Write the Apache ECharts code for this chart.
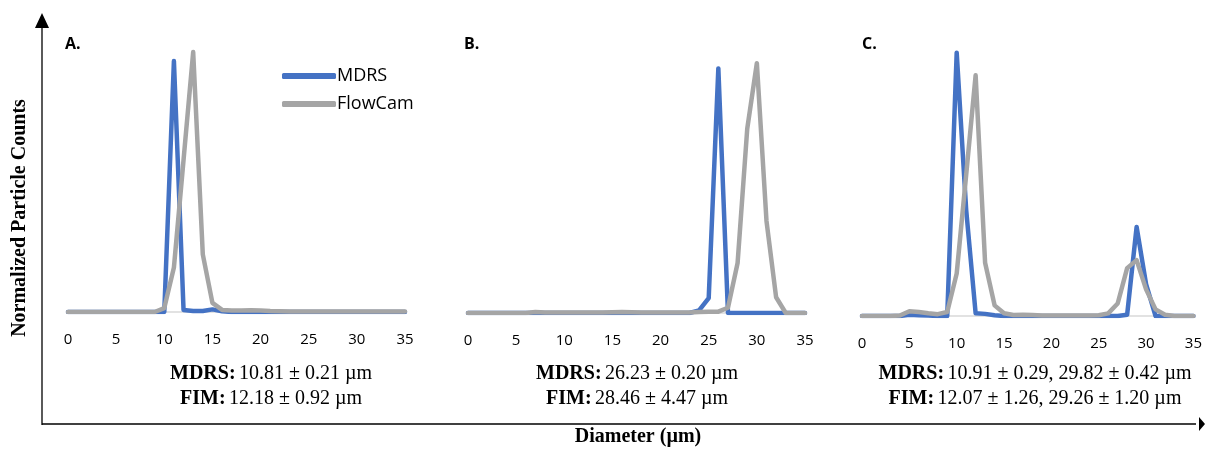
<!DOCTYPE html>
<html><head><meta charset="utf-8">
<script src="https://cdn.jsdelivr.net/npm/echarts@6/dist/echarts.min.js"></script>
<style>html,body{margin:0;padding:0;background:#fff}#c{width:1205px;height:449px}</style>
</head><body><div id="c"></div>
<script>
const diameters = [0,1,2,3,4,5,6,7,8,9,10,11,12,13,14,15,16,17,18,19,20,21,22,23,24,25,26,27,28,29,30,31,32,33,34,35];
const xTicks = [0,5,10,15,20,25,30,35];
const seriesNames = ['MDRS','FlowCam'];
// Panel A
const mdrsA =    [0,0,0,0,0,0,0,0,0,0,0,0.958,0.008,0.004,0.004,0.01,0.003,0,0,0,0,0,0,0,0,0,0,0,0,0,0,0,0,0,0,0];
const flowcamA = [0,0,0,0,0,0,0,0,0,0,0.015,0.17,0.58,0.992,0.22,0.035,0.008,0.006,0.006,0.007,0.006,0.004,0.003,0.002,0.002,0.002,0.002,0.002,0.002,0.002,0.002,0.002,0.002,0.002,0.002,0.002];
// Panel B
const mdrsB =    [0,0,0,0,0,0,0,0,0,0,0,0,0,0,0,0,0,0,0,0,0,0,0,0,0.01,0.057,0.93,0,0,0,0,0,0,0,0,0];
const flowcamB = [0,0,0,0,0,0,0,0.004,0.002,0.002,0.002,0.002,0.002,0.002,0.002,0.003,0.004,0.003,0.002,0.002,0.002,0.002,0.002,0.002,0.004,0.005,0.005,0.02,0.19,0.70,0.95,0.35,0.06,0,0,0];
// Panel C
const mdrsC =    [0,0,0,0,0,0.005,0.003,0.002,0,0,0.99,0.40,0.01,0.008,0.003,0,0,0,0,0,0,0,0,0,0,0,0,0,0.005,0.335,0.12,0,0,0,0,0];
const flowcamC = [0,0,0,0,0.002,0.018,0.015,0.01,0.007,0.015,0.16,0.53,0.905,0.2,0.04,0.01,0.004,0.005,0.004,0.002,0.002,0.002,0.002,0.002,0.002,0.003,0.01,0.047,0.18,0.21,0.1,0.025,0.005,0,0,0];

const panels = [
  {label:'A.', mdrs:mdrsA, flow:flowcamA, left:68, width:337, bottom:312,
   l1:'10.81 ± 0.21 µm', l2:'12.18 ± 0.92 µm', cx:271, lx:65},
  {label:'B.', mdrs:mdrsB, flow:flowcamB, left:468, width:337, bottom:313,
   l1:'26.23 ± 0.20 µm', l2:'28.46 ± 4.47 µm', cx:637, lx:464},
  {label:'C.', mdrs:mdrsC, flow:flowcamC, left:862, width:335, bottom:316,
   l1:'10.91 ± 0.29, 29.82 ± 0.42 µm', l2:'12.07 ± 1.26, 29.26 ± 1.20 µm', cx:1035, lx:862}
];
const H = 449, TOP = 50;
const colors = ['#4472C4','#A5A5A5'];
const tickFont = 'Open Sans';
const rich = {b:{fontFamily:'Liberation Serif', fontWeight:'bold', fontSize:20, fill:'#000'},
              r:{fontFamily:'Liberation Serif', fontSize:20, fill:'#000'}};

const grid=[], xAxis=[], yAxis=[], series=[], graphic=[];
panels.forEach((p,i)=>{
  grid.push({left:p.left, width:p.width, top:TOP, bottom:H-p.bottom});
  xAxis.push({type:'value', gridIndex:i, min:0, max:35, interval:5,
    axisLine:{show:true, lineStyle:{color:'#D9D9D9', width:1.5}}, axisTick:{show:false},
    splitLine:{show:false},
    axisLabel:{color:'#000', fontSize:15, fontFamily:tickFont, margin:20,
      formatter:v=> xTicks.includes(v)? String(v):''}});
  yAxis.push({type:'value', gridIndex:i, min:0, max:1, show:false});
  [p.mdrs,p.flow].forEach((arr,k)=>{
    series.push({type:'line', name:seriesNames[k], xAxisIndex:i, yAxisIndex:i,
      data: diameters.map((d,j)=>[d,arr[j]]), showSymbol:false, symbol:'none',
      lineStyle:{color:colors[k], width:4.5, cap:'round', join:'round'},
      itemStyle:{color:colors[k]}, z: 2+k, silent:true});
  });
  graphic.push({type:'text', left:p.lx, top:36, style:{text:p.label, font:'bold 16px "Open Sans"', fill:'#000'}});
  graphic.push({type:'text', x:p.cx, y:374, style:{text:'{b|MDRS:} {r|'+p.l1+'}', align:'center', verticalAlign:'middle', rich}});
  graphic.push({type:'text', x:p.cx, y:399, style:{text:'{b|FIM:} {r|'+p.l2+'}', align:'center', verticalAlign:'middle', rich}});
});

// outer axes with arrows
graphic.push({type:'line', shape:{x1:42, y1:26, x2:42, y2:425}, style:{stroke:'#000', lineWidth:1.3}});
graphic.push({type:'polygon', shape:{points:[[42,13],[35,28],[49,28]]}, style:{fill:'#000'}});
graphic.push({type:'line', shape:{x1:42, y1:424, x2:1196, y2:424}, style:{stroke:'#000', lineWidth:1.3}});
graphic.push({type:'polygon', shape:{points:[[1205,424],[1199,417],[1199,431]]}, style:{fill:'#000'}});
graphic.push({type:'text', x:20, y:218, rotation:Math.PI/2,
  style:{text:'Normalized Particle Counts', align:'center', verticalAlign:'middle', font:'bold 20px "Liberation Serif"', fill:'#000'}});
graphic.push({type:'text', x:638, y:437,
  style:{text:'Diameter (µm)', align:'center', verticalAlign:'middle', font:'bold 20px "Liberation Serif"', fill:'#000'}});

const chart = echarts.init(document.getElementById('c'));
chart.setOption({
  animation:false,
  grid, xAxis, yAxis, series, graphic,
  legend:{data:seriesNames, orient:'vertical', left:277, top:62, itemWidth:54, itemHeight:6, itemGap:10,
    icon:'roundRect', textStyle:{fontSize:18, fontFamily:'Open Sans', color:'#000', padding:[0,0,0,-4]}}
});
</script></body></html>
